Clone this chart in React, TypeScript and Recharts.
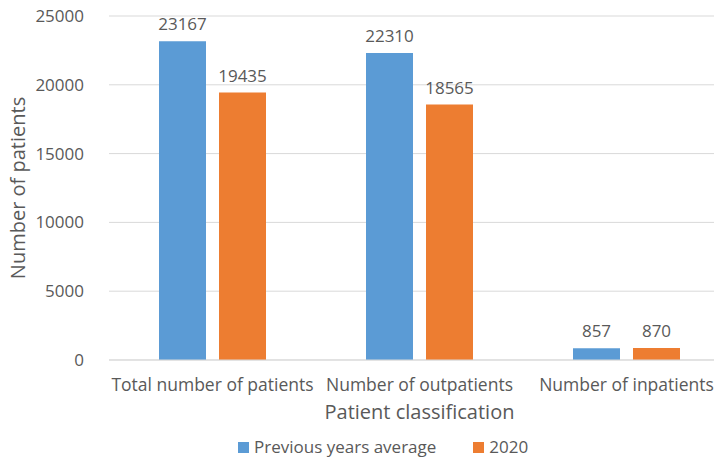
import { BarChart, Bar, XAxis, YAxis, CartesianGrid, LabelList, Label } from 'recharts'

const categories = ['Total number of patients', 'Number of outpatients', 'Number of inpatients']
const previousAvg = [23167, 22310, 857]
const year2020 = [19435, 18565, 870]
const yTicks = [0, 5000, 10000, 15000, 20000, 25000]

const BLUE = '#5b9bd5'
const ORANGE = '#ed7d31'
const TEXT = '#595959'
const FONT = '"Open Sans", sans-serif'

const data = categories.map((name, i) => ({
  name,
  prev: previousAvg[i],
  y2020: year2020[i],
}))

const legendItems = [
  { label: 'Previous years average', color: BLUE },
  { label: '2020', color: ORANGE },
]

export default function App() {
  return (
    <div style={{ position: 'relative', margin: '-8px 0 0 -8px', width: 730, height: 460, background: '#fff' }}>
      <BarChart
        width={730}
        height={460}
        data={data}
        margin={{ top: 16, right: 0, left: 0, bottom: 70 }}
        barGap={13}
        barSize={47}
      >
        <CartesianGrid vertical={false} stroke="#d9d9d9" />
        <XAxis
          dataKey="name"
          height={30}
          axisLine={{ stroke: '#d9d9d9' }}
          tickLine={false}
          tickSize={0}
          tickMargin={19}
          tick={{ fill: TEXT, fontSize: 17.5, fontFamily: FONT }}
        >
          <Label value="Patient classification" position="bottom" offset={15} fill={TEXT} fontSize={20} fontFamily={FONT} />
        </XAxis>
        <YAxis
          width={109}
          domain={[0, 25000]}
          ticks={yTicks}
          axisLine={false}
          tickLine={false}
          tickSize={0}
          tickMargin={25}
          tick={{ fill: TEXT, fontSize: 17, fontFamily: FONT }}
        >
          <Label value="Number of patients" angle={-90} position="insideLeft" offset={18} fill={TEXT} fontSize={20} fontFamily={FONT} style={{ textAnchor: 'middle' }} />
        </YAxis>
        <Bar dataKey="prev" name="Previous years average" fill={BLUE} isAnimationActive={false}>
          <LabelList dataKey="prev" position="top" offset={11} fill={TEXT} fontSize={17} fontFamily={FONT} />
        </Bar>
        <Bar dataKey="y2020" name="2020" fill={ORANGE} isAnimationActive={false}>
          <LabelList dataKey="y2020" position="top" offset={11} fill={TEXT} fontSize={17} fontFamily={FONT} />
        </Bar>
      </BarChart>
      <div
        style={{
          position: 'absolute',
          left: 238,
          top: 436,
          display: 'flex',
          gap: 37,
          fontFamily: FONT,
          fontSize: 17,
          color: TEXT,
          lineHeight: '22px',
        }}
      >
        {legendItems.map(it => (
          <div key={it.label} style={{ display: 'flex', alignItems: 'center' }}>
            <span style={{ width: 11, height: 11, background: it.color, marginRight: 5, display: 'inline-block' }} />
            {it.label}
          </div>
        ))}
      </div>
    </div>
  )
}
